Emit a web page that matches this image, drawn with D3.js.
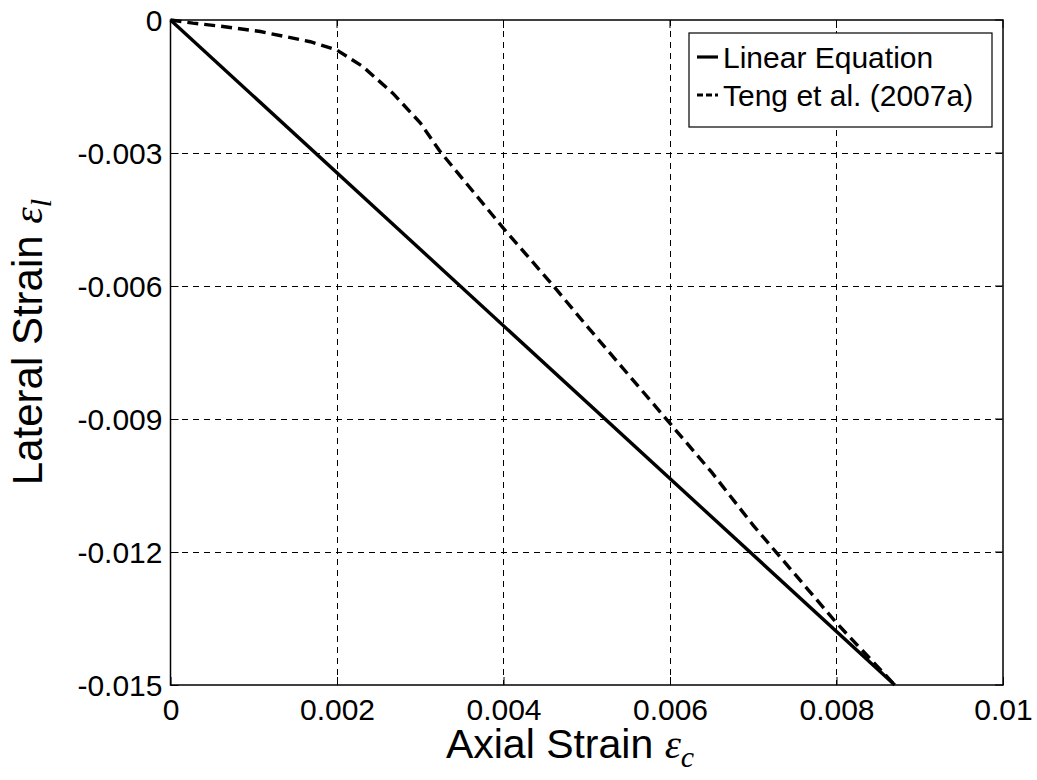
<!DOCTYPE html>
<html><head><meta charset="utf-8">
<script src="https://cdn.jsdelivr.net/npm/d3@7"></script>
<style>body{margin:0;background:#fff}svg{display:block}</style>
</head><body>
<svg id="c" width="1037" height="780"></svg>
<script>
const xTicks = [0, 0.002, 0.004, 0.006, 0.008, 0.01];
const xTickLabels = ["0", "0.002", "0.004", "0.006", "0.008", "0.01"];
const yTicks = [0, -0.003, -0.006, -0.009, -0.012, -0.015];
const yTickLabels = ["0", "-0.003", "-0.006", "-0.009", "-0.012", "-0.015"];
const seriesNames = ["Linear Equation", "Teng et al. (2007a)"];
const linearX = [0, 0.0087];
const linearY = [0, -0.015];
const tengX = [0, 0.00027, 0.0006, 0.00108, 0.00168, 0.002, 0.00231, 0.00267, 0.003, 0.00324, 0.00345, 0.004, 0.0046, 0.005, 0.0055, 0.006, 0.0065, 0.007, 0.0075, 0.008, 0.0087];
const tengY = [0, -0.00007, -0.00014, -0.00026, -0.00049, -0.00068, -0.00105, -0.00165, -0.00232, -0.00297, -0.00345, -0.0047, -0.006, -0.0069, -0.008, -0.0091, -0.0102, -0.0114, -0.0125, -0.0136, -0.015];

const svg = d3.select("#c");
const L = 170.5, R = 1003, T = 20, B = 685;
const x = d3.scaleLinear().domain([0, 0.01]).range([L, R]);
const y = d3.scaleLinear().domain([-0.015, 0]).range([B, T]);
const font = "Liberation Sans, Arial, sans-serif";
const serif = "Liberation Serif, Times New Roman, serif";

// grid
const g = svg.append("g");
g.selectAll(".gx").data(xTicks.slice(1, -1)).enter().append("line")
  .attr("x1", d => x(d)).attr("x2", d => x(d)).attr("y1", T).attr("y2", B)
  .attr("stroke", "#000").attr("stroke-width", 1).attr("stroke-dasharray", "6,5").attr("shape-rendering", "crispEdges");
g.selectAll(".gy").data(yTicks.slice(1, -1)).enter().append("line")
  .attr("y1", d => y(d)).attr("y2", d => y(d)).attr("x1", L).attr("x2", R)
  .attr("stroke", "#000").attr("stroke-width", 1).attr("stroke-dasharray", "6,5").attr("shape-rendering", "crispEdges");

// axes
const xAxis = d3.axisBottom(x).tickValues(xTicks).tickFormat((d, i) => xTickLabels[i]).tickSize(-8).tickPadding(14);
const yAxis = d3.axisLeft(y).tickValues(yTicks).tickFormat((d, i) => yTickLabels[i]).tickSize(-8).tickPadding(8);
const ax = svg.append("g").attr("transform", `translate(0,${B})`).call(xAxis);
const ay = svg.append("g").attr("transform", `translate(${L},0)`).call(yAxis);
[ax, ay].forEach(a => {
  a.select(".domain").remove();
  a.selectAll("line").attr("stroke", "#000");
  a.selectAll("text").attr("font-family", font).attr("font-size", 30).attr("fill", "#000");
});
ax.selectAll("text").attr("y", 35).attr("dy", 0);
ay.selectAll("text").attr("dy", "0.34em");
// top/right ticks
svg.selectAll(".tt").data(xTicks).enter().append("line")
  .attr("x1", d => x(d)).attr("x2", d => x(d)).attr("y1", T).attr("y2", T + 8).attr("stroke", "#000");
svg.selectAll(".rt").data(yTicks).enter().append("line")
  .attr("y1", d => y(d)).attr("y2", d => y(d)).attr("x1", R).attr("x2", R - 8).attr("stroke", "#000");

// box
svg.append("rect").attr("x", L).attr("y", T).attr("width", R - L).attr("height", B - T)
  .attr("fill", "none").attr("stroke", "#000").attr("stroke-width", 1.5);

// lines
const line = d3.line().x(d => x(d[0])).y(d => y(d[1]));
svg.append("path").datum(linearX.map((v, i) => [v, linearY[i]])).attr("d", line)
  .attr("fill", "none").attr("stroke", "#000").attr("stroke-width", 3.4);
svg.append("path").datum(tengX.map((v, i) => [v, tengY[i]])).attr("d", line)
  .attr("fill", "none").attr("stroke", "#000").attr("stroke-width", 3.4).attr("stroke-dasharray", "11,6");

// legend
const lg = svg.append("g");
lg.append("rect").attr("x", 689).attr("y", 33).attr("width", 303).attr("height", 94)
  .attr("fill", "#fff").attr("stroke", "#000").attr("stroke-width", 1.2);
const ly = [57, 95];
seriesNames.forEach((n, i) => {
  lg.append("line").attr("x1", 697).attr("x2", 718).attr("y1", ly[i]).attr("y2", ly[i])
    .attr("stroke", "#000").attr("stroke-width", 3.2).attr("stroke-dasharray", i ? "6,3" : null);
  lg.append("text").attr("x", 723).attr("y", ly[i]).attr("dy", "0.35em").attr("font-family", font)
    .attr("font-size", 30).text(n);
});

// axis titles
const xt = svg.append("text").attr("x", 570).attr("y", 758).attr("text-anchor", "middle")
  .attr("font-family", font).attr("font-size", 41);
xt.append("tspan").text("Axial Strain ");
xt.append("tspan").attr("font-family", serif).attr("font-style", "italic").text("ε");
xt.append("tspan").attr("font-family", serif).attr("font-style", "italic").attr("font-size", 30).attr("dy", 9).text("c");

const yt = svg.append("text").attr("transform", `translate(42,342) rotate(-90)`).attr("text-anchor", "middle")
  .attr("font-family", font).attr("font-size", 42);
yt.append("tspan").text("Lateral Strain ");
yt.append("tspan").attr("font-family", serif).attr("font-style", "italic").text("ε");
yt.append("tspan").attr("font-family", serif).attr("font-style", "italic").attr("font-size", 30).attr("dy", 9).text("l");
</script>
</body></html>
